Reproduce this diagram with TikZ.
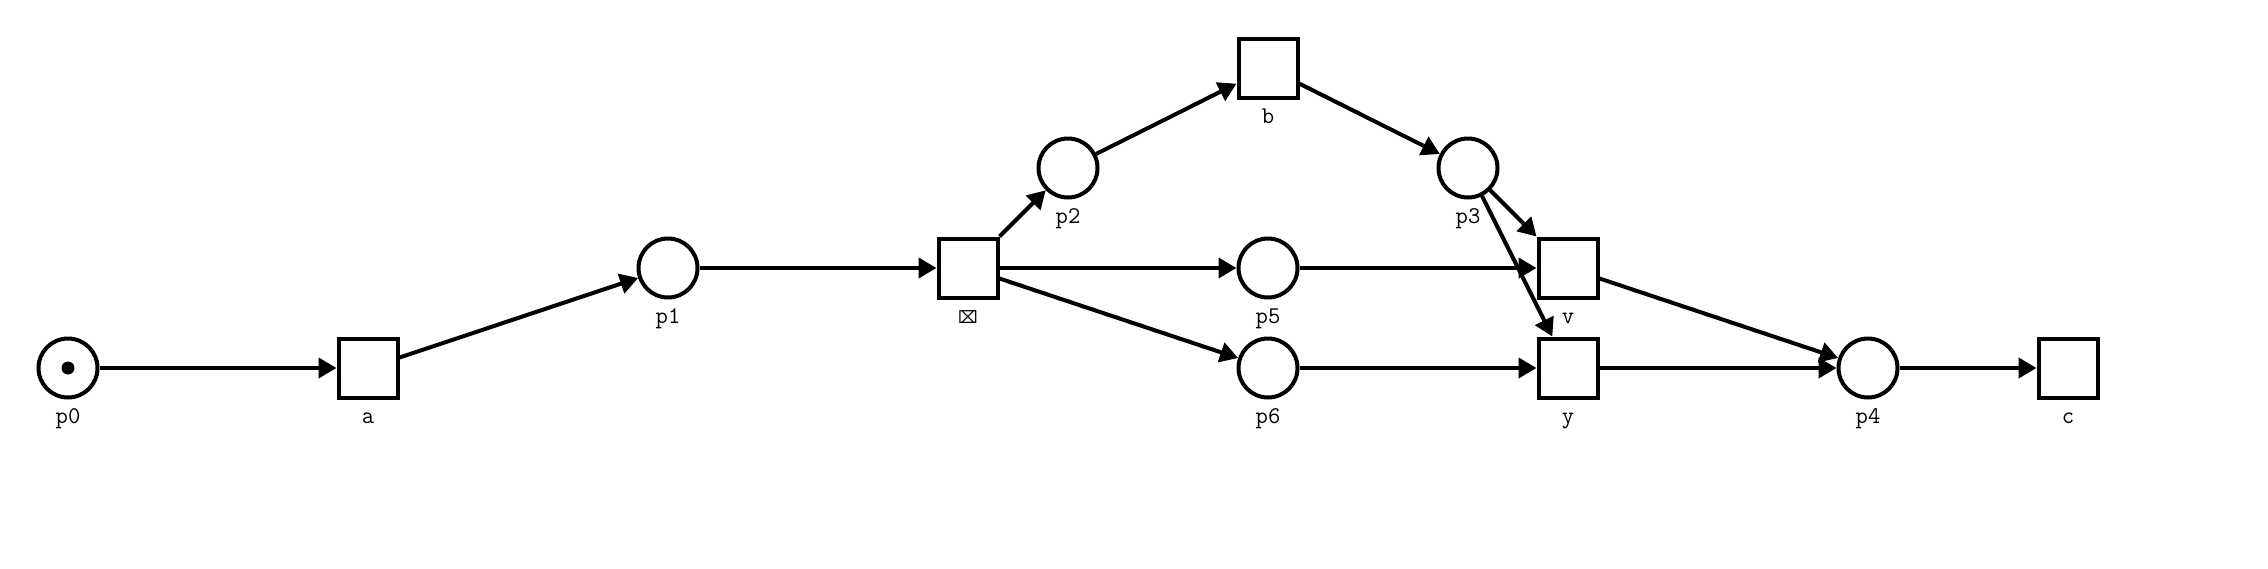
\documentclass[tikz,border=0pt]{standalone}
\usepackage{fontspec}
\newfontfamily\symfont{DejaVu Sans}
\usetikzlibrary{arrows.meta}
\tikzset{
  place/.style={circle, draw=black, line width=4pt, minimum size=59pt, inner sep=0pt, fill=white},
  trans/.style={rectangle, draw=black, line width=4pt, minimum size=59pt, inner sep=0pt, fill=white},
  lab/.style={anchor=base, inner sep=0pt, font=\ttfamily\fontsize{24}{28}\selectfont},
  arc/.style={line width=4pt, -{Triangle[length=18pt,width=20pt]}},
  tokendot/.style={circle, fill=black, minimum size=13pt, inner sep=0pt}
}
\begin{document}
\begin{tikzpicture}[x=1pt,y=-1pt]
\useasboundingbox[fill=white] (0,0) rectangle (2268,568);
% places
\node[place] (p0) at (68,368) {};
\node[place] (p1) at (668,268) {};
\node[place] (p2) at (1068,168) {};
\node[place] (p3) at (1468,168) {};
\node[place] (p5) at (1268,268) {};
\node[place] (p6) at (1268,368) {};
\node[place] (p4) at (1868,368) {};
\node[tokendot] (tok) at (p0) {};
% transitions
\node[trans] (a) at (368,368) {};
\node[trans] (x) at (968,268) {};
\node[trans] (b) at (1268,68) {};
\node[trans] (v) at (1568,268) {};
\node[trans] (y) at (1568,368) {};
\node[trans] (c) at (2068,368) {};
% labels
\node[lab] (lp0) at (68,423) {p0};
\node[lab] (lp1) at (668,323) {p1};
\node[lab] (lp2) at (1068,223) {p2};
\node[lab] (lp3) at (1468,223) {p3};
\node[lab] (lp5) at (1268,323) {p5};
\node[lab] (lp6) at (1268,423) {p6};
\node[lab] (lp4) at (1868,423) {p4};
\node[lab] (la) at (368,423) {a};
\node[lab, font=\symfont\fontsize{17}{20}\selectfont] (lx) at (968,323) {⌧};
\node[lab] (lb) at (1268,123) {b};
\node[lab] (lv) at (1568,323) {v};
\node[lab] (ly) at (1568,423) {y};
\node[lab] (lc) at (2068,423) {c};
% arcs
\draw[arc] (p0) -- (a);
\draw[arc] (a) -- (p1);
\draw[arc] (p1) -- (x);
\draw[arc] (x) -- (p2);
\draw[arc] (x) -- (p5);
\draw[arc] (x) -- (p6);
\draw[arc] (p2) -- (b);
\draw[arc] (b) -- (p3);
\draw[arc] (p3) -- (v);
\draw[arc] (p3) -- (y);
\draw[arc] (p5) -- (v);
\draw[arc] (p6) -- (y);
\draw[arc] (v) -- (p4);
\draw[arc] (y) -- (p4);
\draw[arc] (p4) -- (c);
\end{tikzpicture}
\end{document}
